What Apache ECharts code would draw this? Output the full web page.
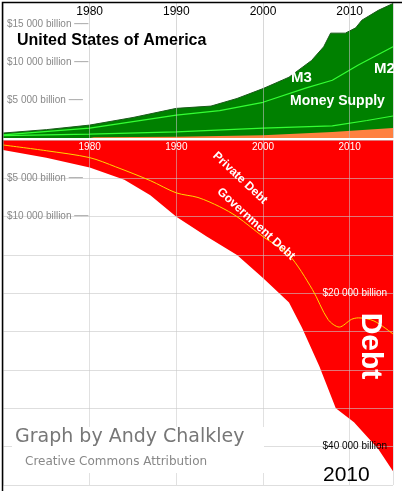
<!DOCTYPE html>
<html>
<head>
<meta charset="utf-8">
<script src="https://cdn.jsdelivr.net/npm/echarts@6/dist/echarts.min.js"></script>
<style>html,body{margin:0;padding:0;background:#fff}#main{width:402px;height:491px}</style>
</head>
<body>
<div id="main"></div>
<script>
// money supply (billions)
var m3 = [[1970,650],[1975,1100],[1980,1700],[1985,2700],[1990,3900],[1994,4200],[1997,5200],[2000,6500],[2003,8000],[2005.6,10200],[2007,12000],[2007.8,13800],[2009.5,13800],[2010.7,14500],[2011.4,15500],[2013.3,16800],[2015,17700]];
var m2 = [[1970,400],[1980,1300],[1990,3000],[1995,3600],[2000,4700],[2005,6600],[2008,7600],[2011,9600],[2015,12000]];
var m1 = [[1970,300],[1980,500],[1990,800],[2000,1300],[2008,1600],[2012,2300],[2015,2900]];
var m0 = [[1980,0],[1980.5,100],[1990,150],[2000,350],[2008,800],[2015,1300]];
// debt (billions)
var totalDebt = [[1970,1300],[1975,2300],[1980,3600],[1984,5200],[1987,7200],[1990,10000],[1993.5,12600],[1997,15000],[2000,18000],[2003,21200],[2004.5,24500],[2006.5,29500],[2008.4,35000],[2010.5,36800],[2013.3,40300],[2015,43200]];
var privateDebt = [[1970,650],[1975,1400],[1980,2300],[1983,3500],[1987,5300],[1990,6900],[1992.5,7500],[1995,8700],[1997,10000],[2000,12600],[2003,15000],[2005.7,19500],[2007.5,23400],[2008.8,24400],[2010.2,23400],[2011,23200],[2012.8,23600],[2015,25300]];
var decades = [1980, 1990, 2000, 2010];

var chart = echarts.init(document.getElementById('main'));
function yearLabel(v){ return decades.indexOf(v) >= 0 ? String(v) : ''; }

chart.setOption({
  animation: false,
  grid: [
    {left: 2, right: 9, top: 2, bottom: 353},
    {left: 2, right: 9, top: 140, bottom: 6}
  ],
  xAxis: [
    {gridIndex: 0, type: 'value', min: 1970, max: 2015, interval: 10, position: 'top', z: 5,
     axisLine: {show: false}, axisTick: {show: false},
     axisLabel: {inside: true, formatter: yearLabel, color: '#000', fontSize: 12, fontFamily: 'Arial', margin: 4},
     splitLine: {lineStyle: {color: 'rgba(190,190,190,0.6)'}}},
    {gridIndex: 1, type: 'value', min: 1970, max: 2015, interval: 10, position: 'top', z: 5,
     axisLine: {show: false}, axisTick: {show: false},
     axisLabel: {inside: true, formatter: yearLabel, color: '#fff', fontSize: 10, fontFamily: 'Arial', margin: 2},
     splitLine: {lineStyle: {color: 'rgba(200,200,200,0.55)'}}}
  ],
  yAxis: [
    {gridIndex: 0, type: 'value', min: 0, max: 17900, interval: 5000, z: 5,
     axisLine: {show: false}, axisTick: {show: false}, splitLine: {show: false},
     axisLabel: {inside: true, margin: 4, color: '#888', fontSize: 10, fontFamily: 'Arial',
       formatter: function(v){ return v > 0 && v < 17000 ? '$' + (v/1000) + ' 000 billion \u2500\u2500' : ''; }}},
    {gridIndex: 1, type: 'value', min: 0, max: 45000, interval: 5000, inverse: true, z: 5,
     axisLine: {show: false}, axisTick: {show: false},
     splitLine: {lineStyle: {color: 'rgba(200,200,200,0.6)'}},
     axisLabel: {inside: true, margin: 4, color: '#888', fontSize: 10, fontFamily: 'Arial',
       formatter: function(v){ return (v === 5000 || v === 10000) ? '$' + (v/1000) + ' 000 billion \u2500\u2500' : ''; }}},
    {gridIndex: 1, type: 'value', min: 0, max: 45000, interval: 5000, inverse: true, position: 'right', z: 5,
     axisLine: {show: false}, axisTick: {show: false}, splitLine: {show: false},
     axisLabel: {inside: true, margin: 6, fontSize: 10, fontFamily: 'Arial',
       formatter: function(v){ return v === 20000 ? '{w|$20 000 billion}' : v === 40000 ? '{b|$40 000 billion}' : ''; },
       rich: {w: {color: '#fff', fontSize: 10}, b: {color: '#000', fontSize: 10}}}}
  ],
  series: [
    {type: 'line', xAxisIndex: 0, yAxisIndex: 0, data: m3, symbol: 'none', z: 1,
     lineStyle: {width: 1, color: '#1a5a1a'}, areaStyle: {color: '#008000', opacity: 1}},
    {type: 'line', xAxisIndex: 0, yAxisIndex: 0, data: m0, symbol: 'none', z: 2,
     lineStyle: {width: 0}, areaStyle: {color: '#ff8040', opacity: 1}},
    {type: 'line', xAxisIndex: 0, yAxisIndex: 0, data: m2, symbol: 'none', z: 3,
     lineStyle: {width: 1.2, color: '#33ff33'}},
    {type: 'line', xAxisIndex: 0, yAxisIndex: 0, data: m1, symbol: 'none', z: 3,
     lineStyle: {width: 1.2, color: '#33ff33'}},
    {type: 'line', xAxisIndex: 1, yAxisIndex: 1, data: totalDebt, symbol: 'none', z: 1,
     lineStyle: {width: 0}, areaStyle: {color: '#ff0000', opacity: 1}},
    {type: 'line', xAxisIndex: 1, yAxisIndex: 1, data: privateDebt, symbol: 'none', smooth: 0.3, z: 6,
     lineStyle: {width: 1, color: '#ffd700'}}
  ],
  graphic: [
    {type: 'rect', left: 0, top: 0, z: 100, silent: true, shape: {width: 401, height: 490},
     style: {fill: 'none', stroke: '#000', lineWidth: 1.5}},
    {type: 'text', left: 17, top: 33, z: 50, style: {text: 'United States of America', fill: '#000', font: 'bold 16px Arial'}},
    {type: 'text', left: 291, top: 70, z: 50, style: {text: 'M3', fill: '#fff', font: 'bold 15px Arial'}},
    {type: 'text', x: 374, y: 61, z: 50, style: {text: 'M2', fill: '#fff', font: 'bold 15px Arial'}},
    {type: 'text', left: 290, top: 94, z: 50, style: {text: 'Money Supply', fill: '#fff', font: 'bold 14px Arial'}},
    {type: 'text', x: 240, y: 178, rotation: -Math.PI * 0.24, z: 50,
     style: {text: 'Private Debt', fill: '#fff', font: 'bold 12px Arial', align: 'center', verticalAlign: 'middle'}},
    {type: 'text', x: 256, y: 224, rotation: -Math.PI * 0.235, z: 50,
     style: {text: 'Government Debt', fill: '#fff', font: 'bold 12px Arial', align: 'center', verticalAlign: 'middle'}},
    {type: 'text', x: 370, y: 346, rotation: -Math.PI / 2, z: 50,
     style: {text: 'Debt', fill: '#fff', font: 'bold 30px Arial', align: 'center', verticalAlign: 'middle'}},
    {type: 'rect', left: 12, top: 427, z: 40, shape: {width: 252, height: 46}, style: {fill: '#fff'}},
    {type: 'text', left: 15, top: 428, z: 50, style: {text: 'Graph by Andy Chalkley', fill: '#777', font: '19px "DejaVu Sans"'}},
    {type: 'text', left: 25, top: 456, z: 50, style: {text: 'Creative Commons Attribution', fill: '#888', font: '12px "DejaVu Sans"'}},
    {type: 'text', left: 323, top: 465, z: 50, style: {text: '2010', fill: '#000', font: '21px Arial'}}
  ]
});
</script>
</body>
</html>
